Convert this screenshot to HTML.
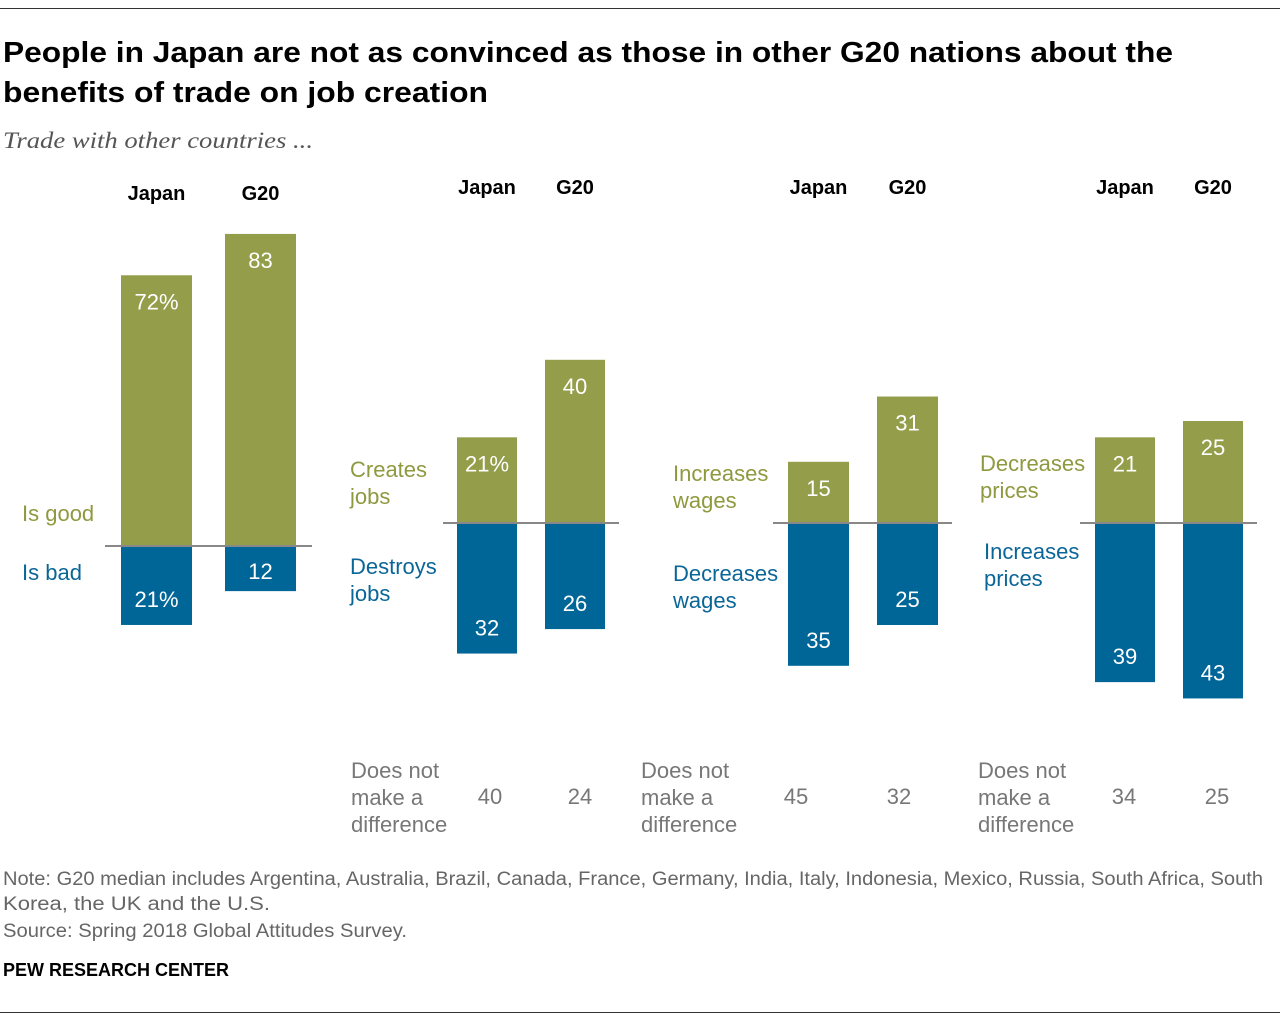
<!DOCTYPE html>
<html><head><meta charset="utf-8"><style>
body{margin:0;background:#fff;width:1280px;height:1022px;overflow:hidden;font-family:"Liberation Sans",sans-serif}
svg{display:block}
</style></head><body>
<svg id="chart" width="1280" height="1022">
<line x1="0" y1="8.5" x2="1280" y2="8.5" stroke="#333" stroke-width="1"/>
<text x="3" y="62" font-size="29" font-weight="bold" fill="#000" textLength="1170" lengthAdjust="spacingAndGlyphs">People in Japan are not as convinced as those in other G20 nations about the</text>
<text x="3" y="102" font-size="29" font-weight="bold" fill="#000" textLength="485" lengthAdjust="spacingAndGlyphs">benefits of trade on job creation</text>
<text x="3" y="148" font-size="23" font-style="italic" font-family="Liberation Serif,serif" fill="#555" textLength="310" lengthAdjust="spacingAndGlyphs">Trade with other countries ...</text>
<g id="panels"></g>
<g font-size="19" fill="#666">
<text x="3" y="885" textLength="1260" lengthAdjust="spacingAndGlyphs">Note: G20 median includes Argentina, Australia, Brazil, Canada, France, Germany, India, Italy, Indonesia, Mexico, Russia, South Africa, South</text>
<text x="3" y="910" textLength="267" lengthAdjust="spacingAndGlyphs">Korea, the UK and the U.S.</text>
<text x="3" y="937" textLength="404" lengthAdjust="spacingAndGlyphs">Source: Spring 2018 Global Attitudes Survey.</text>
</g>
<text x="3" y="976" font-size="18" font-weight="bold" fill="#000">PEW RESEARCH CENTER</text>
<line x1="0" y1="1012.5" x2="1280" y2="1012.5" stroke="#333" stroke-width="1"/>
</svg>
<script>
const groups=["Japan","G20"];
const goodValues=[[72,83],[21,40],[15,31],[21,25]];
const badValues=[[21,12],[32,26],[35,25],[39,43]];
const noDiffValues=[null,[40,24],[45,32],[34,25]];
const goodLabels=[["Is good"],["Creates","jobs"],["Increases","wages"],["Decreases","prices"]];
const badLabels=[["Is bad"],["Destroys","jobs"],["Decreases","wages"],["Increases","prices"]];
const G="#949d49",B="#006597",GT="#8f993f",BT="#0b6698";
const layout=[
 {base:546,scale:3.76,bars:[121,225],w:71,line:[105,312],hdrY:200,glx:22,gly:521,blx:22,bly:580,ndx:null,ndl:0},
 {base:523,scale:4.08,bars:[457,545],w:60,line:[443,619],hdrY:194,glx:350,gly:477,blx:350,bly:574,ndx:[490,580],ndl:351},
 {base:523,scale:4.08,bars:[788,877],w:61,line:[773,952],hdrY:194,glx:673,gly:481,blx:673,bly:581,ndx:[796,899],ndl:641},
 {base:523,scale:4.08,bars:[1095,1183],w:60,line:[1080,1257],hdrY:194,glx:980,gly:471,blx:984,bly:559,ndx:[1124,1217],ndl:978}];
const ns="http://www.w3.org/2000/svg",root=document.getElementById('panels');
function mk(t,a,txt){const e=document.createElementNS(ns,t);for(const k in a)e.setAttribute(k,a[k]);if(txt!=null)e.textContent=txt;root.appendChild(e);return e;}
layout.forEach((L,p)=>{
 const y=v=>L.base-v*L.scale, yb=v=>L.base+v*L.scale;
 groups.forEach((g,i)=>{
  const x=L.bars[i],cx=x+L.w/2;
  let h=mk('text',{x:cx,y:L.hdrY,'text-anchor':'middle','font-size':20,'font-weight':'bold',fill:'#000'},g);
  
  
  const gv=goodValues[p][i],bv=badValues[p][i];
  let r=mk('rect',{x:x,y:y(gv),width:L.w,height:gv*L.scale,fill:G});
  
  
  let r2=mk('rect',{x:x,y:L.base,width:L.w,height:bv*L.scale,fill:B});
  
  
  const pct=(i==0&&(p<2))?'%':'';
  let t=mk('text',{x:cx,y:y(gv)+34,'text-anchor':'middle','font-size':22,fill:'#fff'},gv+pct);
  
  
  const bp=(i==0&&(p==0))?'%':'';
  let t2=mk('text',{x:cx,y:Math.max(yb(bv)-18,L.base+33),'text-anchor':'middle','font-size':22,fill:'#fff'},bv+bp);
  
  
  if(noDiffValues[p]){
   let n=mk('text',{x:L.ndx[i],y:804,'text-anchor':'middle','font-size':22,fill:'#777'},noDiffValues[p][i]);
   
   
  }
 });
 let ln=mk('line',{x1:L.line[0],x2:L.line[1],y1:L.base,y2:L.base,stroke:'#888','stroke-width':2});
 
 
 goodLabels[p].forEach((s,k)=>{let e=mk('text',{x:L.glx,y:L.gly+k*27,'font-size':22,fill:GT},s);
  
  });
 badLabels[p].forEach((s,k)=>{let e=mk('text',{x:L.blx,y:L.bly+k*27,'font-size':22,fill:BT},s);
  
  });
 if(noDiffValues[p]){
  ["Does not","make a","difference"].forEach((s,k)=>{let e=mk('text',{x:L.ndl,y:778+k*27,'font-size':22,fill:'#777'},s);
   
   });
 }
});
</script>
</body></html>
